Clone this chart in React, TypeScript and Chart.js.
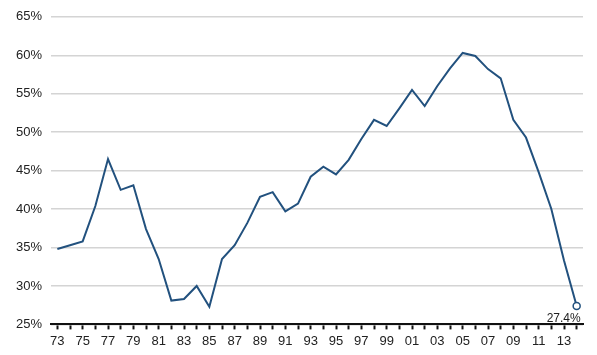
import React, { useEffect, useRef } from "react";
import { Chart, registerables } from "chart.js";

Chart.register(...registerables);

const years: string[] = [
  "73","74","75","76","77","78","79","80","81","82",
  "83","84","85","86","87","88","89","90","91","92",
  "93","94","95","96","97","98","99","00","01","02",
  "03","04","05","06","07","08","09","10","11","12",
  "13","14",
];

const values: number[] = [
  34.8, 35.3, 35.8, 40.4, 46.5, 42.5, 43.1, 37.4, 33.5, 28.1,
  28.3, 30.0, 27.3, 33.5, 35.3, 38.2, 41.6, 42.2, 39.7, 40.7,
  44.2, 45.5, 44.5, 46.4, 49.1, 51.6, 50.8, 53.1, 55.5, 53.4,
  56.0, 58.3, 60.3, 59.9, 58.2, 57.0, 51.6, 49.3, 44.8, 40.0,
  33.3, 27.4,
];

const lastLabel = "27.4%";
const yMin = 25;
const yMax = 65;
const yStep = 5;

export default function App() {
  const ref = useRef<HTMLCanvasElement | null>(null);

  useEffect(() => {
    document.body.style.margin = "0";
    const canvas = ref.current;
    if (!canvas) return;
    const lastIdx = values.length - 1;
    const labelPlugin = {
      id: "lastLabel",
      afterDatasetsDraw(chart: any) {
        const meta = chart.getDatasetMeta(0);
        const pt = meta.data[lastIdx];
        if (!pt) return;
        const ctx = chart.ctx;
        ctx.save();
        ctx.font = "12px 'Liberation Sans', Arial, sans-serif";
        ctx.fillStyle = "#222";
        ctx.textAlign = "right";
        ctx.textBaseline = "middle";
        ctx.fillText(lastLabel, pt.x + 4, pt.y + 13);
        ctx.restore();
      },
    };
    const chart = new Chart(canvas, {
      type: "line",
      data: {
        labels: years,
        datasets: [
          {
            data: values,
            borderColor: "#22517e",
            borderWidth: 2,
            tension: 0,
            pointRadius: (c: any) => (c.dataIndex === lastIdx ? 3.5 : 0),
            pointHoverRadius: 0,
            pointBackgroundColor: "#ffffff",
            pointBorderColor: "#22517e",
            pointBorderWidth: 1.5,
            clip: false as any,
          },
        ],
      },
      options: {
        animation: false,
        responsive: false,
        maintainAspectRatio: false,
        events: [],
        layout: { padding: { left: 7, right: 14, top: 9, bottom: 2 } },
        plugins: { legend: { display: false }, tooltip: { enabled: false } },
        scales: {
          x: {
            type: "category",
            offset: true,
            grid: {
              display: true,
              drawOnChartArea: false,
              drawTicks: true,
              tickLength: 5,
              tickWidth: 2,
              tickColor: "#111",
              offset: false,
            },
            border: { display: true, color: "#111", width: 2 },
            ticks: {
              autoSkip: false,
              maxRotation: 0,
              padding: 4,
              color: "#222",
              font: { family: "'Liberation Sans', Arial, sans-serif", size: 13 },
              callback: (_v: any, i: number) => (i % 2 === 0 ? years[i] : ""),
            },
          },
          y: {
            min: yMin,
            max: yMax,
            grid: {
              color: "#d4d4d4",
              lineWidth: 1.5,
              drawTicks: false,
            },
            border: { display: false },
            ticks: {
              stepSize: yStep,
              padding: 9,
              color: "#222",
              font: { family: "'Liberation Sans', Arial, sans-serif", size: 13 },
              callback: (v: any) => v + "%",
            },
          },
        },
      },
      plugins: [labelPlugin],
    });
    return () => chart.destroy();
  }, []);

  return (
    <div style={{ width: 597, height: 355 }}>
      <canvas ref={ref} width={597} height={355} style={{ display: "block" }} />
    </div>
  );
}
